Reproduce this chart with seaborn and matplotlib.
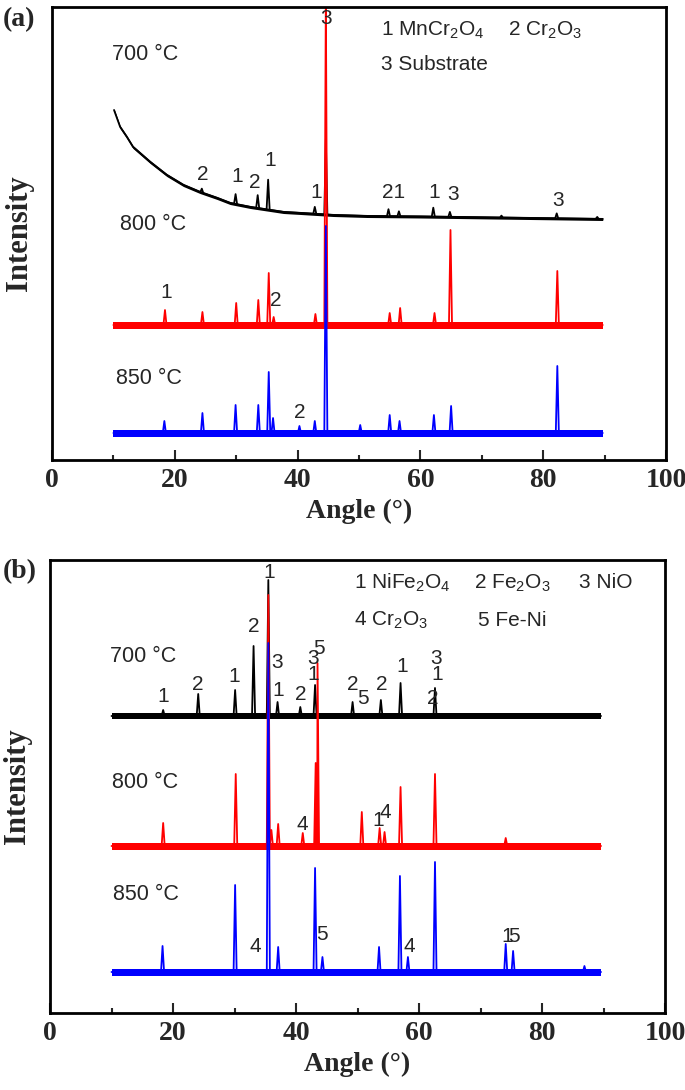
import numpy as np
import pandas as pd
import matplotlib
matplotlib.use('Agg')
import matplotlib.pyplot as plt
import seaborn as sns

# XRD patterns of oxide scales after oxidation at 700/800/850 C
# intensity in arbitrary units (stacked patterns)

# ---------------- panel (a) ----------------
# 700 C has a decaying background, read at a few angles
a700_bg_x = [10.1, 11.1, 12.2, 13.2, 16.0, 18.7, 21.4, 24.1, 26.9, 29.0, 32.3, 37.7, 40.5, 45.8, 51.3, 60.0, 89.7]
a700_bg_y = [350, 333, 323, 313, 298, 285, 275, 268, 262, 257, 253, 248, 247, 245, 244, 243.5, 241]
a700_pos = [24.4, 29.9, 33.5, 35.2, 42.8, 44.6, 54.8, 56.5, 62.1, 64.8, 73.2, 82.2, 88.8]
a700_h = [4, 10, 13, 30, 7, 75, 7, 5, 9, 5, 2, 5, 2]

a800_bg_x = [10.0, 89.7]
a800_bg_y = [135, 135]
a800_pos = [18.4, 24.5, 30.0, 33.6, 35.3, 36.1, 42.9, 44.6, 55.0, 56.7, 62.3, 64.9, 82.3]
a800_h = [15, 13, 22, 25, 52, 8, 11, 330, 12, 17, 12, 95, 54]

a850_bg_x = [10.0, 89.7]
a850_bg_y = [27, 27]
a850_pos = [18.3, 24.5, 29.9, 33.6, 35.3, 36.0, 40.3, 42.8, 44.6, 50.2, 55.0, 56.6, 62.2, 65.0, 82.3]
a850_h = [12, 20, 28, 28, 61, 15, 7, 12, 207, 8, 18, 12, 18, 27, 67]

a_noise = [3, 7, 7]

a_phases = [('1 MnCr$_\\mathregular{2}$O$_\\mathregular{4}$', 53.6, 430),
            ('2 Cr$_\\mathregular{2}$O$_\\mathregular{3}$', 74.2, 430),
            ('3 Substrate', 53.6, 395)]
a_temps = [('700 °C', 9.7, 406), ('800 °C', 11.0, 236), ('850 °C', 10.5, 82)]
a_marks = [('3', 44.6, 442),
           ('2', 24.6, 285), ('1', 30.1, 284), ('2', 33.1, 277), ('1', 35.6, 300),
           ('1', 43.1, 267), ('21', 55.7, 267), ('1', 62.2, 267), ('3', 65.4, 265),
           ('3', 82.5, 260),
           ('1', 18.6, 167), ('2', 36.5, 159),
           ('2', 40.4, 47)]

# ---------------- panel (b) ----------------
b700_bg_x = [10.0, 89.6]
b700_bg_y = [297, 297]
b700_pos = [18.4, 24.1, 30.1, 33.1, 35.5, 37.0, 40.7, 43.1, 49.2, 53.8, 57.0, 62.6]
b700_h = [6, 22, 26, 70, 136, 14, 9, 31, 14, 16, 33, 28]

b800_bg_x = [10.0, 89.6]
b800_bg_y = [167, 167]
b800_pos = [18.4, 30.2, 35.5, 36.0, 37.1, 41.1, 43.2, 43.5, 50.7, 53.6, 54.4, 57.0, 62.6, 74.1]
b800_h = [23, 72, 251, 16, 22, 13, 83, 183, 34, 18, 14, 59, 72, 8]

b850_bg_x = [10.0, 89.6]
b850_bg_y = [41, 41]
b850_pos = [18.3, 30.1, 35.5, 37.1, 43.1, 44.3, 53.5, 56.9, 58.2, 62.6, 74.1, 75.3, 86.9]
b850_h = [26, 87, 329, 25, 104, 15, 25, 96, 15, 110, 28, 21, 6]

b_noise = [6, 7, 7]

b_phases = [('1 NiFe$_\\mathregular{2}$O$_\\mathregular{4}$', 49.4, 430),
            ('2 Fe$_\\mathregular{2}$O$_\\mathregular{3}$', 68.9, 430),
            ('3 NiO', 86.0, 430),
            ('4 Cr$_\\mathregular{2}$O$_\\mathregular{3}$', 49.4, 393),
            ('5 Fe-Ni', 69.6, 393)]
b_temps = [('700 °C', 9.8, 357), ('800 °C', 10.1, 231), ('850 °C', 10.3, 118)]
b_marks = [('1', 35.6, 441),
           ('1', 18.4, 316), ('2', 24.0, 328), ('1', 29.9, 336), ('2', 33.2, 387),
           ('3', 37.0, 350), ('1', 37.1, 322), ('2', 40.8, 318),
           ('3', 42.7, 355), ('1', 42.8, 339), ('5', 43.7, 365),
           ('2', 49.2, 328), ('5', 50.9, 315), ('2', 53.9, 328), ('1', 57.2, 346),
           ('3', 62.7, 355), ('1', 62.9, 338), ('2', 62.2, 315),
           ('4', 41.0, 188), ('1', 53.3, 192), ('4', 54.6, 200),
           ('4', 33.4, 66), ('5', 44.3, 78), ('4', 58.4, 66), ('1', 74.4, 77), ('5', 75.4, 77)]

colors = ['black', '#ff0000', '#0000ff']


def build_trace(bg_x, bg_y, pos, h, w=0.25):
    # background points plus a triangle for each reflection
    pts = []
    for x, y in zip(bg_x, bg_y):
        if all(abs(x - p) > w for p in pos):
            pts.append((x, y))
    for p, hh in zip(pos, h):
        pts.append((p - w, np.interp(p - w, bg_x, bg_y)))
        pts.append((p, np.interp(p, bg_x, bg_y) + hh))
        pts.append((p + w, np.interp(p + w, bg_x, bg_y)))
    pts.sort()
    return pd.DataFrame(pts, columns=['angle', 'intensity'])


sns.set_style('white')
plt.rcParams['font.family'] = ['Liberation Sans', 'DejaVu Sans']
plt.rcParams['mathtext.fontset'] = 'custom'
plt.rcParams['mathtext.rm'] = 'Liberation Sans'

fig = plt.figure(figsize=(6.85, 10.9), dpi=100)
ax_a = fig.add_axes([52 / 685, 1 - 460 / 1090, 614 / 685, 453 / 1090])
ax_b = fig.add_axes([50 / 685, 1 - 1013 / 1090, 615 / 685, 453 / 1090])

serif = dict(fontfamily='Liberation Serif', fontweight='bold', fontsize=20)

panels = [
    (ax_a, [(a700_bg_x, a700_bg_y, a700_pos, a700_h),
            (a800_bg_x, a800_bg_y, a800_pos, a800_h),
            (a850_bg_x, a850_bg_y, a850_pos, a850_h)], a_noise, a_phases, a_temps, a_marks),
    (ax_b, [(b700_bg_x, b700_bg_y, b700_pos, b700_h),
            (b800_bg_x, b800_bg_y, b800_pos, b800_h),
            (b850_bg_x, b850_bg_y, b850_pos, b850_h)], b_noise, b_phases, b_temps, b_marks),
]

for ax, series, noise, phases, temps, marks in panels:
    for (bx, by, pos, h), n, c in zip(series, noise, colors):
        df = build_trace(bx, by, pos, h)
        sns.lineplot(data=df, x='angle', y='intensity', ax=ax, color=c, lw=1.3,
                     estimator=None, sort=False)
        ax.fill_between(bx, np.array(by) - n / 2, np.array(by) + n / 2,
                        color=c, lw=0)
    for txt, x, y in phases:
        ax.text(x, y, txt, ha='left', va='center', fontsize=15)
    for txt, x, y in temps:
        ax.text(x, y, txt, ha='left', va='center', fontsize=15.5)
    for txt, x, y in marks:
        ax.text(x, y, txt, ha='center', va='center', fontsize=15)

    ax.set_xlim(0, 100)
    ax.set_ylim(0, 453)
    ax.set_yticks([])
    ax.set_xticks(range(0, 101, 20), labels=[str(v) for v in range(0, 101, 20)], **serif)
    ax.set_xticks(range(10, 100, 20), minor=True)
    ax.tick_params(axis='x', which='major', direction='in', length=7, width=1.5, pad=6,
                   bottom=True, top=False)
    ax.tick_params(axis='x', which='minor', direction='in', length=3.5, width=1.5,
                   bottom=True, top=False)
    for sp in ax.spines.values():
        sp.set_visible(True)
        sp.set_color('black')
        sp.set_linewidth(2)
    ax.set_xlabel('Angle (°)', labelpad=4, **serif)
    ax.set_ylabel('Intensity', fontfamily='Liberation Serif', fontweight='bold', fontsize=22)
    ax.yaxis.set_label_coords(-0.03, 0.5)

fig.text(3 / 685, 1 - 20 / 1090, '(a)', ha='left', va='center', **serif)
fig.text(3 / 685, 1 - 572 / 1090, '(b)', ha='left', va='center', **serif)

fig.savefig('out.png', dpi=100)
plt.close(fig)
